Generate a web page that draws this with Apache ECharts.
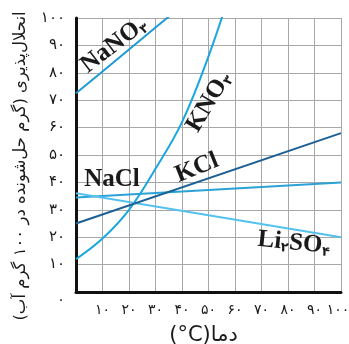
<!DOCTYPE html>
<html><head><meta charset="utf-8">
<script src="https://cdn.jsdelivr.net/npm/echarts@6/dist/echarts.min.js"></script>
<style>html,body{margin:0;padding:0;background:#fff}#c{width:349px;height:344px}</style>
</head><body><div id="c"></div>
<script>
// temperatures (°C) and solubility (g / 100 g water)
const nano3T = [0, 10, 20, 30, 40];
const nano3S = [72.5, 80.5, 88.5, 96.5, 104.5];
const kno3T = [0, 10, 20, 30, 40, 50, 60];
const kno3S = [12, 19.5, 30, 45, 62, 86, 115];
const kclT = [0, 100];
const kclS = [25, 58];
const naclT = [0, 100];
const naclS = [34.5, 40];
const li2so4T = [0, 100];
const li2so4S = [36, 20];
const xTickLabels = ['', '۱۰', '۲۰', '۳۰', '۴۰', '۵۰', '۶۰', '۷۰', '۸۰', '۹۰', '۱۰۰'];
const yTickLabels = ['۰', '۱۰', '۲۰', '۳۰', '۴۰', '۵۰', '۶۰', '۷۰', '۸۰', '۹۰', '۱۰۰'];
const xName = '(°C)دما';
const yName = 'انحلال‌پذیری (گرم حل‌شونده در ۱۰۰ گرم آب)\u200F';

const pairs = (t, s) => t.map((x, i) => [x, s[i]]);
const chart = echarts.init(document.getElementById('c'));
const persian = 'DejaVu Sans';
const serif = 'Liberation Serif, DejaVu Sans';
const lbl = (text, x, y, rot) => ({
  type: 'text', x: x, y: y, rotation: rot, z: 100,
  style: {
    text: text, fill: '#1a1a1a', align: 'center', verticalAlign: 'middle',
    font: 'bold 25px ' + serif,
    rich: {
      m: { fontFamily: serif, fontWeight: 'bold', fontSize: 25, fill: '#1a1a1a' },
      s: { fontFamily: 'DejaVu Sans', fontWeight: 'bold', fontSize: 13, fill: '#1a1a1a', verticalAlign: 'bottom', padding: [8, 0, 0, 0] }
    }
  }
});
const mkLine = (name, data, color, smooth) => ({
  type: 'line', name: name, data: data, showSymbol: false, smooth: smooth, clip: true,
  lineStyle: { color: color, width: 2 }, itemStyle: { color: color }
});
chart.setOption({
  animation: false,
  grid: { left: 76, top: 18, right: 8, bottom: 52, containLabel: false, outerBoundsMode: 'none' },
  xAxis: {
    type: 'value', min: 0, max: 100, interval: 10,
    name: xName, nameLocation: 'middle', nameGap: 33,
    nameTextStyle: { fontFamily: persian, fontSize: 21, color: '#1a1a1a', padding: [0, 10, 0, 0] },
    axisLine: { lineStyle: { color: '#111', width: 3 } },
    axisTick: { show: false },
    axisLabel: { margin: 11, fontFamily: persian, fontSize: 14, color: '#1a1a1a',
      formatter: v => v === 100 ? '{e|' + xTickLabels[10] + '}' : xTickLabels[Math.round(v / 10)],
      rich: { e: { fontFamily: persian, fontSize: 14, color: '#1a1a1a', padding: [0, 6, 0, 0] } } },
    splitLine: { show: true, lineStyle: { color: '#a8a8a8', width: 1 } }
  },
  yAxis: {
    type: 'value', min: 0, max: 100, interval: 10,
    name: yName, nameLocation: 'middle', nameRotate: 90, nameGap: 47,
    nameTextStyle: { fontFamily: persian, fontSize: 16.5, color: '#1a1a1a', padding: [0, 22, 0, 0] },
    axisLine: { show: true, lineStyle: { color: '#111', width: 3 } },
    axisTick: { show: false },
    axisLabel: { margin: 11, fontFamily: persian, fontSize: 15, color: '#1a1a1a',
      formatter: v => v === 0 ? '{o|' + yTickLabels[0] + '}' : yTickLabels[Math.round(v / 10)],
      rich: { o: { fontFamily: persian, fontSize: 15, color: '#1a1a1a', padding: [16, 0, 0, 0] } } },
    splitLine: { show: true, lineStyle: { color: '#a8a8a8', width: 1 } }
  },
  series: [
    mkLine('NaNO3', pairs(nano3T, nano3S), '#1e9bd7', false),
    mkLine('KNO3', pairs(kno3T, kno3S), '#1aa6e0', 0.4),
    mkLine('NaCl', pairs(naclT, naclS), '#2ba2d6', false),
    mkLine('Li2SO4', pairs(li2so4T, li2so4S), '#55c1ee', false),
    mkLine('KCl', pairs(kclT, kclS), '#1c6096', false)
  ],
  graphic: [
    lbl('{m|NaNO}{s|۳}', 114, 45, 0.65),
    lbl('{m|KNO}{s|۳}', 209, 102, 1.03),
    lbl('{m|KCl}', 197, 168, 0.38),
    lbl('{m|NaCl}', 112, 180, 0),
    lbl('{m|Li}{s|۲}{m|SO}{s|۴}', 294, 243, -0.1)
  ]
});
</script></body></html>
